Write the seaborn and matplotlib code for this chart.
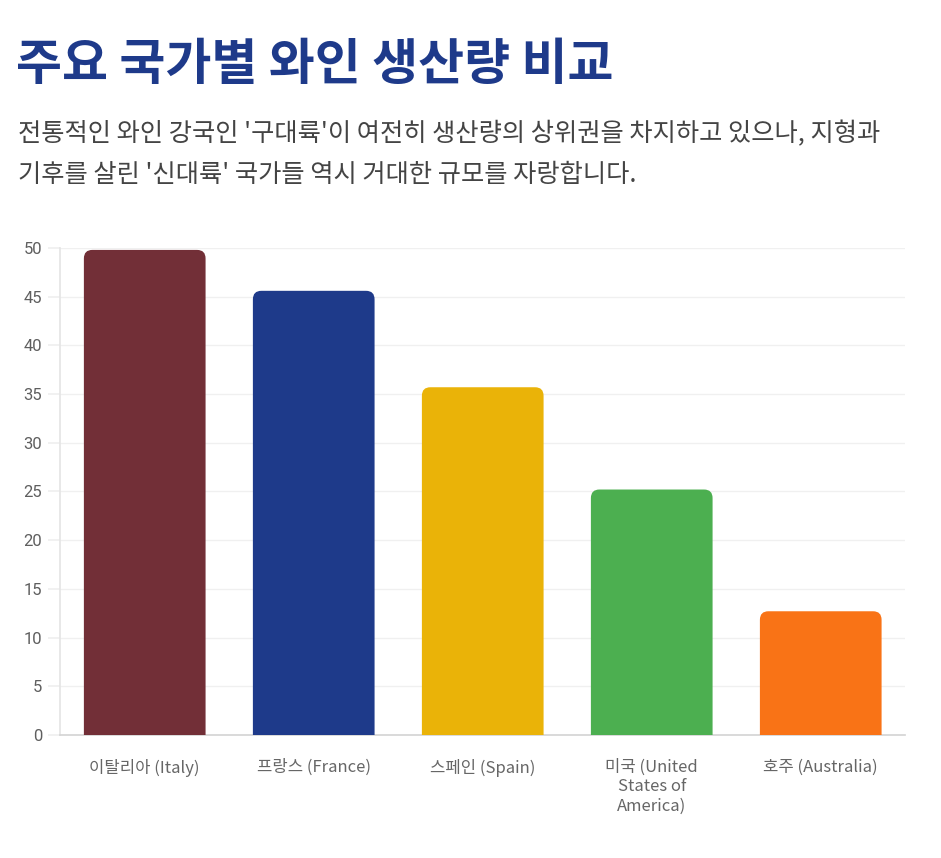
import matplotlib
matplotlib.use("Agg")
import matplotlib.pyplot as plt
import seaborn as sns
import pandas as pd
from matplotlib.patches import FancyBboxPatch

# Data
countries = ['이탈리아 (Italy)', '프랑스 (France)', '스페인 (Spain)',
             '미국 (United\nStates of\nAmerica)', '호주 (Australia)']
production = [49.8, 45.6, 35.7, 25.2, 12.7]
bar_colors = ['#722F37', '#1E3A8A', '#EAB308', '#4CAF50', '#F97316']
y_ticks = [0, 5, 10, 15, 20, 25, 30, 35, 40, 45, 50]

title = '주요 국가별 와인 생산량 비교'
subtitle = ("전통적인 와인 강국인 '구대륙'이 여전히 생산량의 상위권을 차지하고 있으나, 지형과\n"
            "기후를 살린 '신대륙' 국가들 역시 거대한 규모를 자랑합니다.")

df = pd.DataFrame({'country': countries, 'production': production})

sns.set_theme(style="white")
plt.rcParams['font.family'] = ['Noto Sans CJK KR', 'DejaVu Sans']

fig = plt.figure(figsize=(9.41, 8.58), dpi=100)
ax = fig.add_axes([0.064, 0.1434, 0.898, 0.5676])

sns.barplot(data=df, x='country', y='production', hue='country',
            palette=bar_colors, width=0.72, legend=False, ax=ax, zorder=3)

# Replace plain bars with top-rounded ones
for patch, color in zip(list(ax.patches), bar_colors):
    x0, w, h = patch.get_x(), patch.get_width(), patch.get_height()
    rounded = FancyBboxPatch((x0, -2), w, h + 2,
                             boxstyle="round,pad=0,rounding_size=0.05",
                             mutation_aspect=17.5, facecolor=color,
                             edgecolor='none', zorder=3)
    patch.set_visible(False)
    ax.add_patch(rounded)

ax.set_ylim(0, 50)
ax.set_xlim(-0.5, 4.5)
ax.set_yticks(y_ticks)
ax.yaxis.grid(True, color='#f0f0f0', linewidth=1, zorder=0)
ax.set_xlabel('')
ax.set_ylabel('')

for side in ['top', 'right']:
    ax.spines[side].set_visible(False)
ax.spines['left'].set_color('#e5e5e5')
ax.spines['bottom'].set_color('#d5d5d5')

ax.tick_params(axis='y', colors='#5f5f5f', labelsize=12, length=9,
               color='#f0f0f0', left=True, pad=4)
ax.tick_params(axis='x', colors='#666666', labelsize=12, length=0, pad=17)
for lbl in ax.get_yticklabels():
    lbl.set_fontfamily('Roboto')
for lbl in ax.get_xticklabels():
    lbl.set_linespacing(1.2)

fig.text(0.017, 0.924, title, fontsize=36, fontweight='bold',
         color='#1E3A8A', va='center', ha='left')
fig.text(0.019, 0.820, subtitle, fontsize=18.2, color='#444444',
         va='center', ha='left', linespacing=1.72)

fig.savefig('out.png', dpi=100)
